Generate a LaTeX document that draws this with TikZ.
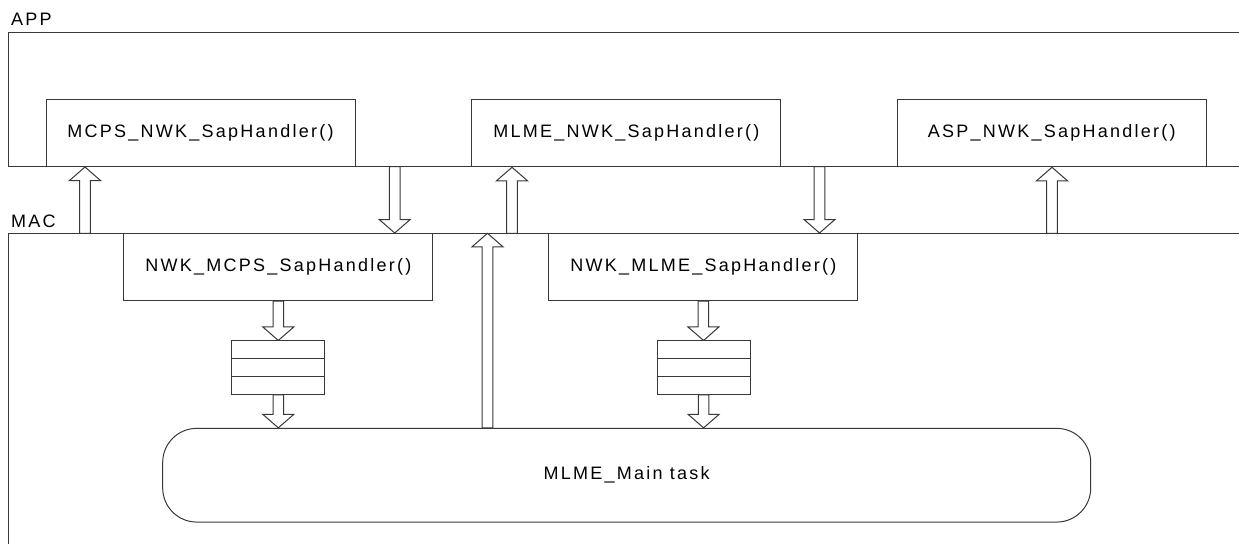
\documentclass[tikz,border=0pt]{standalone}
\usepackage{fontspec}
\setmainfont{Liberation Sans}[LetterSpace=12.5]
\usetikzlibrary{calc}
\begin{document}
\begin{tikzpicture}[x=1pt,y=-1pt,
  every node/.style={font=\fontsize{18}{20}\selectfont, text=black},
  frameline/.style={draw=black!78, line width=1pt},
  fnbox/.style={frameline, fill=white, inner sep=0pt, minimum width=309pt, minimum height=67pt},
  qbox/.style={frameline, fill=white, inner sep=0pt, minimum width=93pt, minimum height=53.5pt},
  taskbox/.style={frameline, rounded corners=34pt, inner sep=0pt, minimum width=928pt, minimum height=93.7pt},
  lbl/.style={anchor=west, inner sep=0pt},
  fatarrow/.style={frameline, fill=white, line join=miter, to path={
    let \p1=(\tikztostart), \p2=(\tikztotarget),
        \p3=($(\tikztotarget)!13.5pt!(\tikztostart)$) in
    (\x1-5.3pt,\y1) -- (\x1-5.3pt,\y3) -- (\x1-15.5pt,\y3) -- (\x2,\y2)
    -- (\x1+15.5pt,\y3) -- (\x1+5.3pt,\y3) -- (\x1+5.3pt,\y1) -- cycle}}
]
\useasboundingbox (0,0) rectangle (1239,544);
% layer frames
\draw[frameline] (1239,32.3) -- (8.3,32.3) -- (8.3,166.7) -- (1239,166.7);
\draw[frameline] (1239,233.3) -- (8.3,233.3) -- (8.3,544);
\node[lbl] (app) at (11,19.5) {APP};
\node[lbl] (mac) at (11,221) {MAC};
% handler boxes
\node[fnbox] (mcps) at (200.5,133) {MCPS\_NWK\_SapHandler()};
\node[fnbox] (mlme) at (626.3,133.3) {MLME\_NWK\_SapHandler()};
\node[fnbox] (asp) at (1051.7,133.3) {ASP\_NWK\_SapHandler()};
\node[fnbox] (nmcps) at (278.3,267) {NWK\_MCPS\_SapHandler()};
\node[fnbox] (nmlme) at (703.4,267) {NWK\_MLME\_SapHandler()};
% queues
\node[qbox] (q1) at (278.3,367.7) {};
\node[qbox] (q2) at (703.6,367.7) {};
\foreach \q in {q1,q2}{
  \draw[frameline] ($(\q.north west)!1/3!(\q.south west)$) -- ($(\q.north east)!1/3!(\q.south east)$);
  \draw[frameline] ($(\q.north west)!2/3!(\q.south west)$) -- ($(\q.north east)!2/3!(\q.south east)$);
}
% main task
\node[taskbox] (main) at (626.7,475.2) {MLME\_Main task};
% arrow anchor points on the layer lines
\coordinate (a1) at (85,233.3);
\coordinate (a2) at (394.7,166.7);
\coordinate (a3) at (512,233.3);
\coordinate (a4) at (487.5,233.3);
\coordinate (a5) at (819.5,166.7);
\coordinate (a6) at (1052,233.3);
\draw[fatarrow] (a1) to (a1 |- mcps.south);
\draw[fatarrow] (a2) to (a2 |- nmcps.north);
\draw[fatarrow] (a3) to (a3 |- mlme.south);
\draw[fatarrow] (a4 |- main.north) to (a4);
\draw[fatarrow] (a5) to (a5 |- nmlme.north);
\draw[fatarrow] (a6) to (a6 |- asp.south);
\draw[fatarrow] (nmcps.south) to (q1.north);
\draw[fatarrow] (q1.south) to (q1.south |- main.north);
\draw[fatarrow] (nmlme.south) to (q2.north);
\draw[fatarrow] (q2.south) to (q2.south |- main.north);
\end{tikzpicture}
\end{document}
